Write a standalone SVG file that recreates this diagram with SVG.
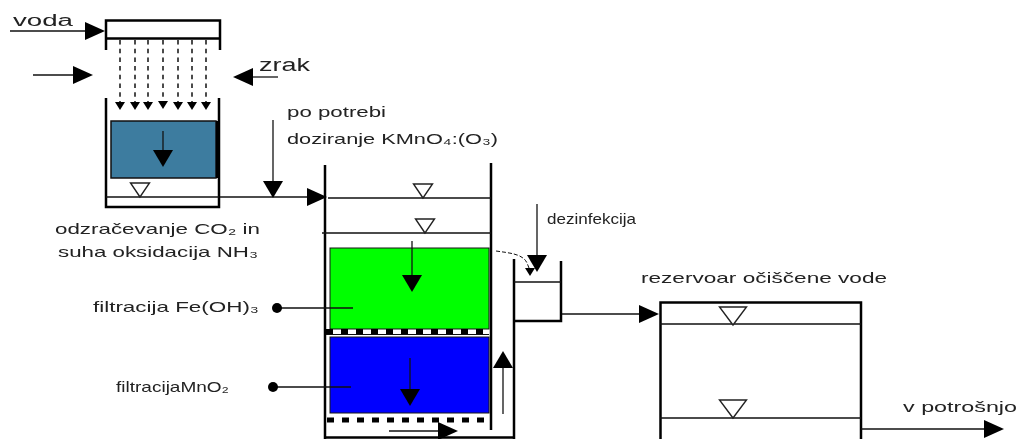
<svg xmlns="http://www.w3.org/2000/svg" width="1019" height="439" viewBox="0 0 1019 439">
<style>
text{font-family:"Liberation Sans",Arial,sans-serif;font-size:15px;fill:#222}
.w{fill:none;stroke:#000;stroke-width:2.5}
.l{fill:none;stroke:#111;stroke-width:1.3}
.d{fill:none;stroke:#111;stroke-width:1.5;stroke-dasharray:4.500 4.200}
.t{fill:none;stroke:#111;stroke-width:1;stroke-dasharray:4 2}
.p{fill:none;stroke:#000;stroke-width:5;stroke-dasharray:7 8}
.h{fill:#000;stroke:none}
.v{fill:#fff;stroke:#222;stroke-width:1.4}
.b{filter:url(#soft)}
</style>
<defs>
<filter id="soft" x="-5%" y="-5%" width="110%" height="110%"><feGaussianBlur stdDeviation="0.4"/></filter>
<path id="hr" class="h" d="M0 0L-20 -9V9Z"/>
<path id="hd" class="h" d="M0 0L-10 -17H10Z"/>
<path id="hs" class="h" d="M0 0L-5 -8H5Z"/>
<path id="lv" class="v" d="M0 0L-9.500 -14H9.500Z"/>
<path id="lvb" class="v" d="M0 0L-13.500 -18H13.500Z"/>
<circle id="dot" r="5" fill="#000"/>
</defs>
<rect width="1019" height="439" fill="#fff"/>
<g id="aerator" class="b">
<path class="w" d="M106 50V20.500H220V50M106 38.500H220"/>
<path class="w" d="M106 98V207H219V98"/>
<rect x="111" y="121" width="105" height="57" fill="#3d7c9f" stroke="#111" stroke-width="1.500"/>
<path d="M217.500 121V178" stroke="#000" stroke-width="3"/>
<path class="l" d="M106 197H219"/>
<use href="#lv" x="140" y="197"/>
</g>
<g id="filter" class="b">
<rect x="330" y="248" width="159" height="81" fill="#00ff00" stroke="#111" stroke-width="1"/>
<rect x="330" y="337" width="159" height="76" fill="#0000ff" stroke="#111" stroke-width="1"/>
<path class="w" d="M325 165V439M491 163V430"/>
<path class="l" d="M328 198H491M322 233H491"/>
<use href="#lv" x="423" y="198"/><use href="#lv" x="425" y="233"/>
<path class="p" d="M326 331.500H489M327 420H484"/>
<path d="M326 334.500H489" stroke="#111" stroke-width="1"/>
<path class="w" d="M326 437.500H514M514 259V439"/>
</g>
<g id="contact-tank" class="b">
<path class="w" d="M561 261V321H514"/>
<path class="l" d="M514 282H561"/>
</g>
<g id="reservoir" class="b">
<path class="w" d="M660.500 439V302.500H861V439"/>
<path class="l" d="M660 324H861M660 418H861"/>
<use href="#lvb" x="733" y="325"/><use href="#lvb" x="733" y="418"/>
</g>
<g id="connectors" class="b">
<path class="l" d="M10 31H92"/><use href="#hr" x="105" y="31"/>
<path class="l" d="M33 75H75"/><use href="#hr" x="93" y="75"/>
<path class="l" d="M278 77H248"/><use href="#hr" transform="translate(233 77) rotate(180)"/>
<path class="d" d="M120 40V102M135 40V102M148 40V102M163 40V102M178 40V102M192 40V102M206 40V102"/>
<use href="#hs" x="120" y="110"/><use href="#hs" x="135" y="110"/><use href="#hs" x="148" y="110"/><use href="#hs" x="163" y="109"/><use href="#hs" x="178" y="110"/><use href="#hs" x="192" y="110"/><use href="#hs" x="206" y="110"/>
<path class="l" d="M163 131V152"/><use href="#hd" x="163" y="167"/>
<path class="l" d="M220 197H310"/><use href="#hr" x="327" y="197"/>
<path class="l" d="M273 120V185"/><use href="#hd" x="273" y="198"/>
<path class="l" d="M412 241V275"/><use href="#hd" x="412" y="292"/>
<path class="l" d="M410 358V392"/><use href="#hd" x="410" y="406"/>
<path class="l" d="M277 308H353M273 387H351"/><use href="#dot" x="277" y="308"/><use href="#dot" x="273" y="387"/>
<path class="l" d="M389 431H440"/><use href="#hr" x="458" y="431"/>
<path class="l" d="M503 414V366"/><use href="#hd" transform="translate(503 351) rotate(180)"/>
<path class="l" d="M537 204V258"/><use href="#hd" x="537" y="272"/>
<path class="t" d="M496 251C510 253 523 254 527 263L529 268"/><use href="#hs" x="530" y="276"/>
<path class="l" d="M562 314H642"/><use href="#hr" x="659" y="314"/>
<path class="l" d="M861 429H985"/><use href="#hr" x="1004" y="429"/>
</g>
<g id="labels" class="b">
<text x="13" y="26" style="font-size:16px" textLength="60" lengthAdjust="spacingAndGlyphs">voda</text>
<text x="259" y="71" style="font-size:18px" textLength="51" lengthAdjust="spacingAndGlyphs">zrak</text>
<text x="287" y="117" textLength="99" lengthAdjust="spacingAndGlyphs">po potrebi</text>
<text x="287" y="144" textLength="211" lengthAdjust="spacingAndGlyphs">doziranje KMnO₄:(O₃)</text>
<text x="55" y="234" textLength="205" lengthAdjust="spacingAndGlyphs">odzračevanje CO₂ in</text>
<text x="58" y="257" textLength="200" lengthAdjust="spacingAndGlyphs">suha oksidacija NH₃</text>
<text x="547" y="224" textLength="89" lengthAdjust="spacingAndGlyphs">dezinfekcija</text>
<text x="641" y="283" textLength="246" lengthAdjust="spacingAndGlyphs">rezervoar očiščene vode</text>
<text x="93" y="312" textLength="166" lengthAdjust="spacingAndGlyphs">filtracija Fe(OH)₃</text>
<text x="116" y="392" textLength="113" lengthAdjust="spacingAndGlyphs">filtracijaMnO₂</text>
<text x="903" y="412" textLength="114" lengthAdjust="spacingAndGlyphs">v potrošnjo</text>
</g>
</svg>
